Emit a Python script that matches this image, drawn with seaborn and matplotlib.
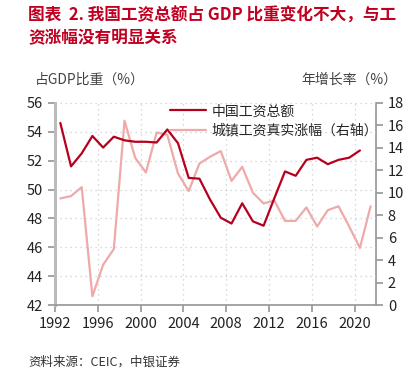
import pandas as pd
import seaborn as sns
import matplotlib.pyplot as plt
import matplotlib.dates as mdates

years_wage = list(range(1992, 2021))
wage_share = [54.6, 51.6, 52.5, 53.7, 52.9, 53.65, 53.4, 53.3, 53.3, 53.25,
              54.15, 53.2, 50.8, 50.75, 49.3, 48.05, 47.65, 49.05, 47.8, 47.5,
              49.4, 51.25, 50.95, 52.05, 52.2, 51.75, 52.05, 52.2, 52.7]

years_real = list(range(1992, 2022))
real_growth = [9.5, 9.7, 10.5, 0.8, 3.6, 5.0, 16.4, 13.1, 11.8, 15.35,
               15.15, 11.7, 10.15, 12.6, 13.2, 13.7, 11.05, 12.3, 10.0, 9.05,
               9.3, 7.5, 7.5, 8.7, 7.0, 8.45, 8.8, 7.0, 5.1, 8.8]

left_ticks = [42, 44, 46, 48, 50, 52, 54, 56]
right_ticks = [0, 2, 4, 6, 8, 10, 12, 14, 16, 18]
x_tick_years = [1992, 1996, 2000, 2004, 2008, 2012, 2016, 2020]

wage_name = "中国工资总额"
real_name = "城镇工资真实涨幅（右轴）"

sns.set_theme(style="white")
plt.rcParams['font.family'] = ['Noto Sans CJK SC', 'DejaVu Sans']

df_wage = pd.DataFrame({"date": pd.to_datetime([f"{y}-07-01" for y in years_wage]),
                        "value": wage_share})
df_real = pd.DataFrame({"date": pd.to_datetime([f"{y}-07-01" for y in years_real]),
                        "value": real_growth})

fig = plt.figure(figsize=(4.15, 3.70), dpi=100)
ax = fig.add_axes([55 / 415, 1 - 305.3 / 370, (376 - 55) / 415, (305.3 - 102.7) / 370])
ax2 = ax.twinx()

dark = "#B5001E"
pink = "#EFA9A9"
spine_c = "#999999"

sns.lineplot(data=df_real, x="date", y="value", ax=ax2, color=pink, linewidth=1.6, label=real_name, legend=False)
sns.lineplot(data=df_wage, x="date", y="value", ax=ax, color=dark, linewidth=1.6, label=wage_name, legend=False)
ax.set_zorder(ax2.get_zorder() + 1)
ax.patch.set_visible(False)

ax.set_xlim(pd.Timestamp("1992-01-01"), pd.Timestamp("2022-01-01"))
ax.set_ylim(42, 56)
ax2.set_ylim(0, 18)
ax.set_yticks(left_ticks)
ax2.set_yticks(right_ticks)
ax.set_xticks([pd.Timestamp(f"{y}-01-01") for y in x_tick_years])
ax.xaxis.set_major_formatter(mdates.DateFormatter("%Y"))
ax.set_xlabel("")
ax.set_ylabel("")
ax2.set_ylabel("")

ax.grid(True, color="#cccccc", linestyle=(0, (1, 3)), linewidth=0.9)

for a in (ax, ax2):
    for s in a.spines.values():
        s.set_visible(False)
ax.spines["left"].set_visible(True)
ax.spines["left"].set_color("#bbbbbb")
ax.spines["left"].set_linewidth(2.2)
ax.spines["bottom"].set_visible(True)
ax.spines["bottom"].set_color(spine_c)
ax2.spines["right"].set_visible(True)
ax2.spines["right"].set_color(spine_c)

ax.tick_params(axis="both", direction="out", length=5, color=spine_c, labelsize=10.5, labelcolor="#222222", bottom=True, left=True)
ax2.tick_params(axis="y", direction="out", length=5, color=spine_c, labelsize=10.5, labelcolor="#222222", right=True)

fig.text(35 / 415, 1 - 80 / 370, "占GDP比重（%）", fontsize=10, color="#444444", va="center")
fig.text(397 / 415, 1 - 80 / 370, "年增长率（%）", fontsize=10, color="#444444", va="center", ha="right")

h1, l1 = ax.get_legend_handles_labels()
h2, l2 = ax2.get_legend_handles_labels()
ax.legend(h1 + h2, l1 + l2, loc="upper left", bbox_to_anchor=(0.34, 1.02), frameon=False,
          fontsize=10, handlelength=2.6, handletextpad=0.4, labelspacing=0.4, borderaxespad=0)

fig.text(28 / 415, 1 - 16 / 370, "图表  2. 我国工资总额占 GDP 比重变化不大，与工", fontsize=12, color="#C00020",
         fontweight="bold", va="center")
fig.text(28 / 415, 1 - 38 / 370, "资涨幅没有明显关系", fontsize=12, color="#C00020",
         fontweight="bold", va="center")
fig.text(28 / 415, 1 - 362 / 370, "资料来源：CEIC，中银证券", fontsize=9, color="#333333",
         style="italic", va="center")

fig.savefig("out.png", dpi=100)
